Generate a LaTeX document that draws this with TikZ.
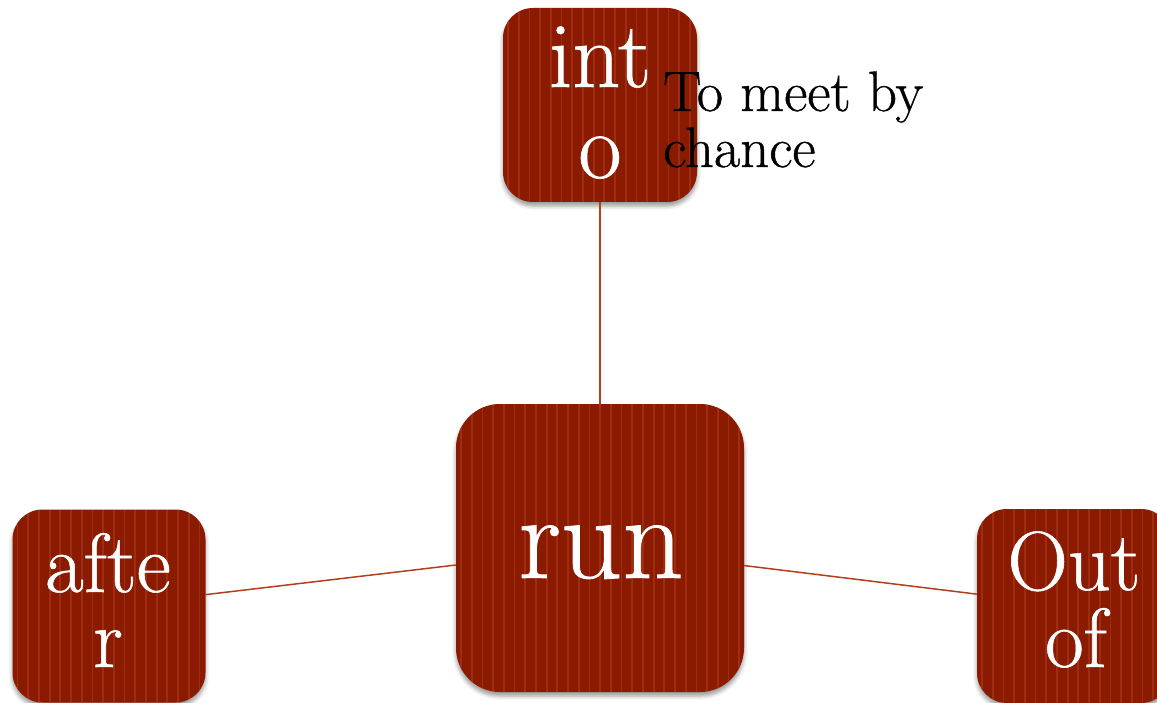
\documentclass[tikz,border=0pt]{standalone}
\usepackage{fontspec}
\setmainfont{Latin Modern Roman}[FakeBold=0.7]
\usetikzlibrary{shadows.blur}
\definecolor{boxred}{RGB}{138,26,0}
\definecolor{stripec}{RGB}{175,58,28}
\definecolor{linec}{RGB}{178,62,28}
\begin{document}
\begin{tikzpicture}[x=1pt,y=-1pt,
  stripes/.style={path picture={\foreach \i in {0,...,27}{\draw[stripec, line width=1.8pt, opacity=0.6] ([xshift=\i*10.7pt+5pt]path picture bounding box.south west) -- ([xshift=\i*10.7pt+5pt]path picture bounding box.north west);}}},
  wordbox/.style={fill=boxred, draw=none, inner sep=0pt, minimum width=#1, minimum height=#1, stripes,
    blur shadow={shadow xshift=0pt, shadow yshift=-4pt, shadow blur radius=4pt, shadow opacity=40}},
  wordtext/.style={text=white, anchor=base, inner sep=0pt},
  deftext/.style={text=black, anchor=base west, inner sep=0pt, font=\fontsize{57}{57}\selectfont},
  link/.style={draw=linec, line width=1.5pt}]
\useasboundingbox (0,0) rectangle (1157,703);
\node[wordbox=194pt, rounded corners=30pt] (into) at (600,105) {};
\node[wordbox=288pt, rounded corners=44pt] (run) at (600,548) {};
\node[wordbox=193pt, rounded corners=30pt] (after) at (109,606) {};
\node[wordbox=194pt, rounded corners=30pt] (outof) at (1074,606) {};
\draw[link] (into) -- (run);
\draw[link] (run) -- (after);
\draw[link] (run) -- (outof);
\node[wordtext, font=\fontsize{94}{94}\selectfont] (into1) at (600,87) {int};
\node[wordtext, font=\fontsize{94}{94}\selectfont] (into2) at (600,178) {o};
\node[wordtext, font=\fontsize{120}{120}\selectfont] (run1) at (601,578) {run};
\node[wordtext, font=\fontsize{84}{84}\selectfont] (after1) at (108,592) {afte};
\node[wordtext, font=\fontsize{84}{84}\selectfont] (after2) at (108,667) {r};
\node[wordtext, font=\fontsize{84}{84}\selectfont] (out1) at (1074,590) {Out};
\node[wordtext, font=\fontsize{84}{84}\selectfont] (out2) at (1076,667) {of};
\node[deftext] (def1) at (663,111) {To meet by};
\node[deftext] (def2) at (663,167) {chance};
\end{tikzpicture}
\end{document}
